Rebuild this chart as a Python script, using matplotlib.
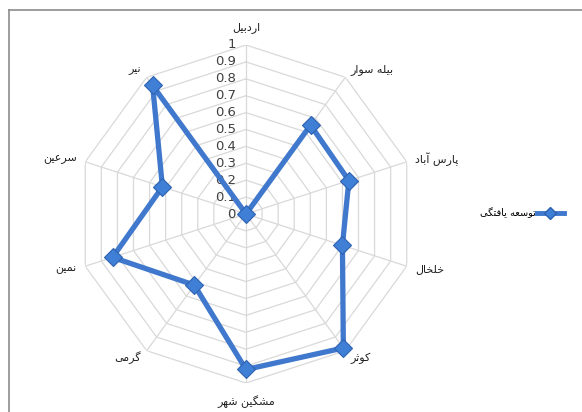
import numpy as np
import matplotlib
matplotlib.use("Agg")
import matplotlib.pyplot as plt
from matplotlib.lines import Line2D

# districts, clockwise from the top
CATEGORIES = ["اردبیل", "بیله سوار", "پارس آباد", "خلخال", "کوثر",
              "مشگین شهر", "گرمی", "نمین", "سرعین", "نیر"]
VALUES = [0.0, 0.65, 0.64, 0.60, 0.98, 0.92, 0.52, 0.83, 0.52, 0.94]
RINGS = [0, 0.1, 0.2, 0.3, 0.4, 0.5, 0.6, 0.7, 0.8, 0.9, 1]
RING_LABELS = ["0", "0.1", "0.2", "0.3", "0.4", "0.5", "0.6", "0.7", "0.8", "0.9", "1"]
SERIES_NAME = "توسعه یافتگی"

LINE_COLOR = "#3f78cc"
GRID_COLOR = "#d9d9d9"
TEXT_COLOR = "#404040"

# presentation forms: isolated, final, initial, medial
FORMS = {
    "ا": (0xFE8D, 0xFE8E), "آ": (0xFE81, 0xFE82),
    "د": (0xFEA9, 0xFEAA), "ر": (0xFEAD, 0xFEAE),
    "ز": (0xFEAF, 0xFEB0), "و": (0xFEED, 0xFEEE),
    "ب": (0xFE8F, 0xFE90, 0xFE91, 0xFE92), "پ": (0xFB56, 0xFB57, 0xFB58, 0xFB59),
    "ت": (0xFE95, 0xFE96, 0xFE97, 0xFE98), "ث": (0xFE99, 0xFE9A, 0xFE9B, 0xFE9C),
    "خ": (0xFEA5, 0xFEA6, 0xFEA7, 0xFEA8), "س": (0xFEB1, 0xFEB2, 0xFEB3, 0xFEB4),
    "ش": (0xFEB5, 0xFEB6, 0xFEB7, 0xFEB8), "ع": (0xFEC9, 0xFECA, 0xFECB, 0xFECC),
    "ف": (0xFED1, 0xFED2, 0xFED3, 0xFED4), "ک": (0xFB8E, 0xFB8F, 0xFB90, 0xFB91),
    "گ": (0xFB92, 0xFB93, 0xFB94, 0xFB95), "ل": (0xFEDD, 0xFEDE, 0xFEDF, 0xFEE0),
    "م": (0xFEE1, 0xFEE2, 0xFEE3, 0xFEE4), "ن": (0xFEE5, 0xFEE6, 0xFEE7, 0xFEE8),
    "ه": (0xFEE9, 0xFEEA, 0xFEEB, 0xFEEC), "ی": (0xFBFC, 0xFBFD, 0xFBFE, 0xFBFF),
}


def shape(text):
    """Join persian letters by hand and reverse them for left-to-right drawing."""
    out = []
    for i, ch in enumerate(text):
        if ch not in FORMS:
            out.append(ch)
            continue
        f = FORMS[ch]
        prev = text[i - 1] if i > 0 else ""
        nxt = text[i + 1] if i + 1 < len(text) else ""
        join_prev = prev in FORMS and len(FORMS[prev]) == 4
        join_next = len(f) == 4 and nxt in FORMS
        if join_prev and join_next:
            code = f[3]
        elif join_prev:
            code = f[1]
        elif join_next:
            code = f[2]
        else:
            code = f[0]
        out.append(chr(code))
    return "".join(reversed(out))


plt.rcParams["font.family"] = ["DejaVu Sans"]

fig = plt.figure(figsize=(5.82, 4.12), dpi=100)
ax = fig.add_axes([77 / 582, 29 / 412, 338 / 582, 338 / 412], projection="polar")
ax.set_theta_offset(np.pi / 2)
ax.set_theta_direction(-1)
ax.set_ylim(0, 1)
ax.grid(False)
ax.set_xticks([])
ax.set_yticks([])
ax.spines["polar"].set_visible(False)
ax.patch.set_alpha(0)

n = len(CATEGORIES)
theta = np.arange(n) * 2 * np.pi / n
theta_closed = np.append(theta, theta[0])

# polygon rings and spokes
for r in RINGS[1:]:
    ax.plot(theta_closed, [r] * (n + 1), color=GRID_COLOR, lw=0.9, zorder=1)
for t in theta:
    ax.plot([t, t], [0, 1], color=GRID_COLOR, lw=0.9, zorder=1)

# ring labels along the top spoke
for r, lab in zip(RINGS, RING_LABELS):
    ax.annotate(lab, xy=(0, r), xytext=(-10, 0), textcoords="offset pixels",
                ha="right", va="center", fontsize=9.5, color=TEXT_COLOR)

# category labels
for t, name in zip(theta, CATEGORIES):
    s, c = np.sin(t), np.cos(t)
    if abs(s) < 0.1:
        ha = "center"
    else:
        ha = "left" if s > 0 else "right"
    if abs(c) > 0.95:
        va = "bottom" if c > 0 else "top"
        off = 12
    else:
        va = "center"
        off = 9
    ax.annotate(shape(name), xy=(t, 1), xytext=(off * s, off * c),
                textcoords="offset pixels", ha=ha, va=va, fontsize=8,
                color="#222222")

vals = np.append(VALUES, VALUES[0])
ax.plot(theta_closed, vals, color=LINE_COLOR, lw=3.8, zorder=3,
        solid_joinstyle="round")
ax.plot(theta, VALUES, ls="none", marker="D", markersize=9,
        markerfacecolor="#3f7fd6", markeredgecolor="#2e62b0",
        markeredgewidth=0.8, zorder=4, clip_on=False)

handle = Line2D([], [], color=LINE_COLOR, lw=3.5, marker="D", markersize=6,
                markerfacecolor="#3f7fd6", markeredgecolor="#2e62b0")
fig.legend([handle], [shape(SERIES_NAME)], loc="center left",
           bbox_to_anchor=(480 / 582, 1 - 213 / 412), frameon=False,
           markerfirst=False, fontsize=7, handlelength=2.8,
           handletextpad=0.1, borderpad=0, borderaxespad=0)

# frame edges seen at the left and top of the picture
fig.add_artist(Line2D([9 / 582, 9 / 582], [0, 1 - 10 / 412],
                      transform=fig.transFigure, color="#8c8c8c", lw=1.2))
fig.add_artist(Line2D([9 / 582, 1], [1 - 10 / 412, 1 - 10 / 412],
                      transform=fig.transFigure, color="#8c8c8c", lw=1.2))

fig.savefig("out.png", dpi=100)
